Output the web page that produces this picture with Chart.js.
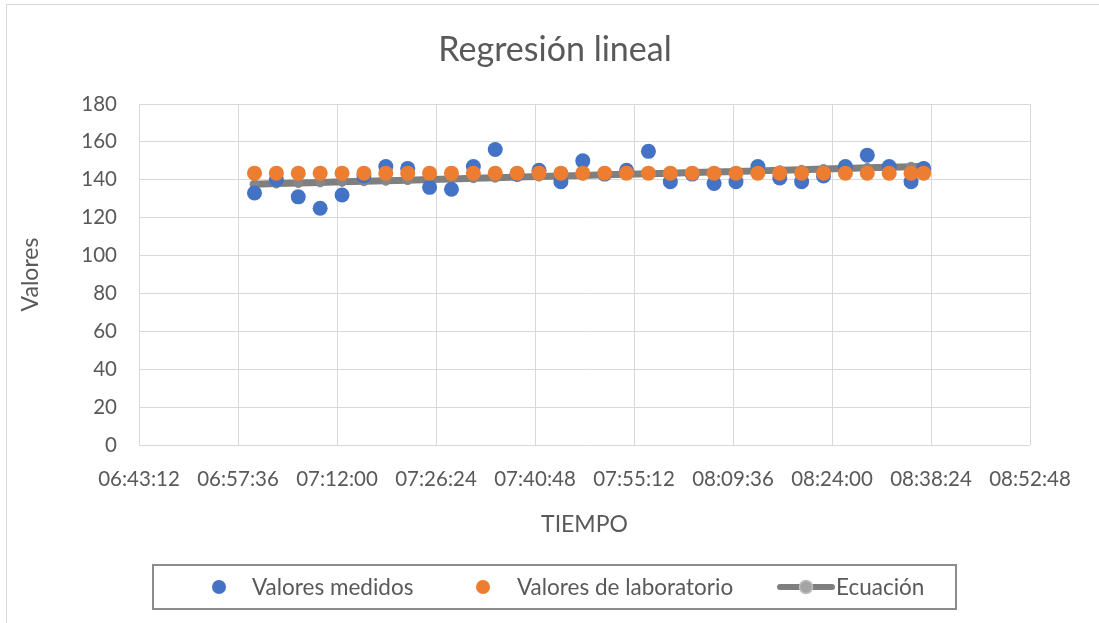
<!DOCTYPE html>
<html>
<head>
<meta charset="utf-8">
<title>Regresión lineal</title>
<script src="https://cdn.jsdelivr.net/npm/chart.js@4.4.0/dist/chart.umd.min.js"></script>
<style>
  html, body { margin: 0; padding: 0; background: #fff; }
  #wrap { width: 1099px; height: 623px; }
</style>
</head>
<body>
<div id="wrap"><canvas id="grafico" width="1099" height="623"></canvas></div>
<script>
// horas de muestreo
const tiempos = [
  '07:00:00', '07:03:11', '07:06:22', '07:09:33', '07:12:44', '07:15:55', '07:19:06', '07:22:17',
  '07:25:28', '07:28:39', '07:31:50', '07:35:01', '07:38:12', '07:41:23', '07:44:34', '07:47:45',
  '07:50:56', '07:54:07', '07:57:18', '08:00:29', '08:03:40', '08:06:51', '08:10:02', '08:13:13',
  '08:16:24', '08:19:35', '08:22:46', '08:25:57', '08:29:08', '08:32:19', '08:35:30', '08:37:20'
];
const valoresMedidos = [
  133, 140, 131, 125, 132, 142, 147, 146,
  136, 135, 147, 156, 143, 145, 139, 150,
  143, 145, 155, 139, 143, 138, 139, 147,
  141, 139, 142, 147, 153, 147, 139, 146
];
const valoresLaboratorio = [
  143.5, 143.5, 143.5, 143.5, 143.5, 143.5, 143.5, 143.5,
  143.5, 143.5, 143.5, 143.5, 143.5, 143.5, 143.5, 143.5,
  143.5, 143.5, 143.5, 143.5, 143.5, 143.5, 143.5, 143.5,
  143.5, 143.5, 143.5, 143.5, 143.5, 143.5, 143.5, 143.5
];
const ecuacion = [
  137.7, 138.0, 138.3, 138.6, 138.9, 139.2, 139.5, 139.8,
  140.1, 140.4, 140.8, 141.1, 141.4, 141.7, 142.0, 142.3,
  142.6, 142.9, 143.2, 143.5, 143.8, 144.1, 144.4, 144.7,
  145.0, 145.3, 145.7, 146.0, 146.3, 146.6, 146.9, 147.1
];
const ejeXEtiquetas = [
  '06:43:12', '06:57:36', '07:12:00', '07:26:24', '07:40:48',
  '07:55:12', '08:09:36', '08:24:00', '08:38:24', '08:52:48'
];
const ejeYValores = [0, 20, 40, 60, 80, 100, 120, 140, 160, 180];

const GRIS_TEXTO = '#595959';
const GRIS_REJILLA = '#d9d9d9';
const FUENTE = 'Lato';

const aSegundos = (h) => {
  const [hh, mm, ss] = h.split(':').map(Number);
  return hh * 3600 + mm * 60 + ss;
};
const puntos = (vals) => tiempos.map((t, i) => ({ x: aSegundos(t), y: vals[i] }));

// titulo, borde exterior y leyenda enmarcada
const marco = {
  id: 'marco',
  afterDraw(chart) {
    const ctx = chart.ctx;
    ctx.save();
    ctx.strokeStyle = GRIS_REJILLA;
    ctx.lineWidth = 1;
    ctx.strokeRect(6.5, 4.5, 1200, 800);

    ctx.fillStyle = GRIS_TEXTO;
    ctx.font = `34px ${FUENTE}`;
    ctx.textAlign = 'center';
    ctx.textBaseline = 'middle';
    ctx.fillText('Regresión lineal', 555, 50);

    ctx.strokeStyle = '#8c8c8c';
    ctx.lineWidth = 2;
    ctx.strokeRect(153, 565, 803, 44);

    const yl = 587;
    ctx.font = `22.5px ${FUENTE}`;
    ctx.textAlign = 'left';
    const items = [
      { txt: chart.data.datasets[0].label, color: '#4472c4', cx: 219, tx: 252 },
      { txt: chart.data.datasets[1].label, color: '#ed7d31', cx: 483, tx: 517 }
    ];
    items.forEach(it => {
      ctx.fillStyle = it.color;
      ctx.beginPath();
      ctx.arc(it.cx, yl, 7, 0, Math.PI * 2);
      ctx.fill();
      ctx.fillStyle = GRIS_TEXTO;
      ctx.fillText(it.txt, it.tx, yl + 1);
    });
    ctx.strokeStyle = '#7f7f7f';
    ctx.lineWidth = 6;
    ctx.lineCap = 'round';
    ctx.beginPath();
    ctx.moveTo(780, yl);
    ctx.lineTo(832, yl);
    ctx.stroke();
    ctx.fillStyle = '#a5a5a5';
    ctx.strokeStyle = '#bfbfbf';
    ctx.lineWidth = 1.5;
    ctx.beginPath();
    ctx.arc(806, yl, 6.5, 0, Math.PI * 2);
    ctx.fill();
    ctx.stroke();
    ctx.fillStyle = GRIS_TEXTO;
    ctx.fillText(chart.data.datasets[2].label, 836, yl + 1);
    ctx.restore();
  }
};

const fuenteEje = { family: FUENTE, size: 20.5 };
const fuenteTitulo = { family: FUENTE, size: 23 };

new Chart(document.getElementById('grafico'), {
  type: 'scatter',
  data: {
    datasets: [
      {
        label: 'Valores medidos',
        data: puntos(valoresMedidos),
        backgroundColor: '#4472c4',
        borderColor: '#4472c4',
        borderWidth: 0,
        pointRadius: 7.5,
        order: 1
      },
      {
        label: 'Valores de laboratorio',
        data: puntos(valoresLaboratorio),
        backgroundColor: '#ed7d31',
        borderColor: '#ed7d31',
        borderWidth: 0,
        pointRadius: 7.5,
        order: 0
      },
      {
        label: 'Ecuación',
        data: puntos(ecuacion),
        showLine: true,
        borderColor: '#7f7f7f',
        borderWidth: 7,
        pointRadius: 4.5,
        pointBackgroundColor: '#878787',
        pointBorderColor: '#878787',
        pointBorderWidth: 1,
        order: 2
      }
    ]
  },
  options: {
    responsive: false,
    animation: false,
    events: [],
    layout: { padding: { top: 104, right: 69, bottom: 0, left: 0 } },
    plugins: {
      legend: { display: false },
      title: { display: false },
      tooltip: { enabled: false }
    },
    scales: {
      x: {
        type: 'linear',
        min: aSegundos(ejeXEtiquetas[0]),
        max: aSegundos(ejeXEtiquetas[ejeXEtiquetas.length - 1]),
        afterBuildTicks: (s) => { s.ticks = ejeXEtiquetas.map(e => ({ value: aSegundos(e) })); },
        afterFit: (s) => { s.height = 178; },
        grid: { color: GRIS_REJILLA, drawTicks: false },
        border: { display: false },
        ticks: {
          autoSkip: false,
          maxRotation: 0,
          padding: 22,
          color: GRIS_TEXTO,
          font: fuenteEje,
          callback: (v, i) => ejeXEtiquetas[i]
        },
        title: {
          display: true,
          text: 'TIEMPO',
          color: GRIS_TEXTO,
          font: fuenteTitulo,
          padding: { top: 0, bottom: 85 }
        }
      },
      y: {
        min: 0,
        max: 180,
        afterBuildTicks: (s) => { s.ticks = ejeYValores.map(v => ({ value: v })); },
        afterFit: (s) => { s.width = 139; },
        grid: { color: GRIS_REJILLA, drawTicks: false },
        border: { display: false },
        ticks: { padding: 22, color: GRIS_TEXTO, font: fuenteEje },
        title: {
          display: true,
          text: 'Valores',
          color: GRIS_TEXTO,
          font: fuenteTitulo,
          padding: { top: 17, bottom: 0 }
        }
      }
    }
  },
  plugins: [marco]
});
</script>
</body>
</html>
